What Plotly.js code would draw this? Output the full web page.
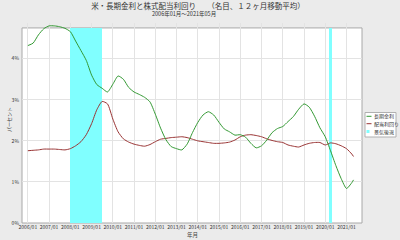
<!DOCTYPE html>
<html>
<head>
<meta charset="utf-8">
<script src="https://cdn.plot.ly/plotly-3.0.1.min.js"></script>
<style>html,body{margin:0;padding:0;background:#ebebeb;}#chart{width:400px;height:240px;}</style>
</head>
<body>
<div id="chart"></div>
<script>
// ---- data (quarterly readings, 12-month moving averages, %) ----
const months = [
 '2006-01','2006-04','2006-07','2006-10',
 '2007-01','2007-04','2007-07','2007-10',
 '2008-01','2008-04','2008-07','2008-10',
 '2009-01','2009-04','2009-07','2009-10',
 '2010-01','2010-04','2010-07','2010-10',
 '2011-01','2011-04','2011-07','2011-10',
 '2012-01','2012-04','2012-07','2012-10',
 '2013-01','2013-04','2013-07','2013-10',
 '2014-01','2014-04','2014-07','2014-10',
 '2015-01','2015-04','2015-07','2015-10',
 '2016-01','2016-04','2016-07','2016-10',
 '2017-01','2017-04','2017-07','2017-10',
 '2018-01','2018-04','2018-07','2018-10',
 '2019-01','2019-04','2019-07','2019-10',
 '2020-01','2020-04','2020-07','2020-10',
 '2021-01','2021-04','2021-05'];
const longRate = [
 4.32,4.38,4.58,4.73,
 4.80,4.80,4.78,4.74,
 4.66,4.43,4.20,3.96,
 3.60,3.37,3.28,3.19,
 3.38,3.58,3.50,3.30,
 3.19,3.13,3.06,2.95,
 2.65,2.31,2.03,1.86,
 1.81,1.78,1.92,2.20,
 2.45,2.63,2.71,2.63,
 2.45,2.29,2.22,2.14,
 2.15,2.09,1.94,1.83,
 1.88,2.02,2.20,2.30,
 2.35,2.47,2.59,2.77,
 2.90,2.82,2.60,2.32,
 2.10,1.76,1.40,1.08,
 0.84,0.98,1.05];
const divYield = [
 1.76,1.77,1.78,1.80,
 1.80,1.80,1.79,1.78,
 1.81,1.88,1.98,2.15,
 2.42,2.76,2.96,2.90,
 2.53,2.22,2.05,1.97,
 1.92,1.89,1.87,1.91,
 1.98,2.04,2.06,2.08,
 2.09,2.10,2.08,2.04,
 2.00,1.98,1.96,1.94,
 1.94,1.95,1.97,2.02,
 2.10,2.14,2.15,2.13,
 2.10,2.05,2.01,1.98,
 1.96,1.90,1.87,1.85,
 1.90,1.94,1.96,1.96,
 1.90,1.95,1.93,1.88,
 1.81,1.68,1.62];
const recessionMonths = [
 '2008-01','2008-02','2008-03','2008-04','2008-05','2008-06',
 '2008-07','2008-08','2008-09','2008-10','2008-11','2008-12',
 '2009-01','2009-02','2009-03','2009-04','2009-05','2009-06',
 '2020-03','2020-04'];
const recessionFlag = recessionMonths.map(() => 1);
const yTickVals = [0,1,2,3,4];
const yTickText = ['0%','1%','2%','3%','4%'];
const xTickYears = ['2006-01-01','2007-01-01','2008-01-01','2009-01-01','2010-01-01','2011-01-01',
 '2012-01-01','2013-01-01','2014-01-01','2015-01-01','2016-01-01','2017-01-01',
 '2018-01-01','2019-01-01','2020-01-01','2021-01-01'];
const xTickText = xTickYears.map(d => d.slice(0,4) + '/' + d.slice(5,7));
const seriesNames = ['長期金利','配当利回り','景気後退'];

// ---- styling ----
const FONT = '"Noto Sans CJK JP", "Noto Sans", sans-serif';
const GREEN = '#339933', RED = '#993333', CYAN = '#80ffff', BG = '#ebebeb';
const YMAX = 4.87, FRAME_TOP = 4.75;
const frameFrac = FRAME_TOP / YMAX;
const W = 340, H = 200, L = 22, T = 23;
const px = x => (x - L) / W;          // container x -> paper x
const py = y => (T + H - y) / H;      // container y -> paper y

const traces = [
  {type:'bar', x: recessionMonths, y: recessionFlag.map(f => f * FRAME_TOP),
   offset: 0, width: 31*86400000, marker:{color: CYAN, line:{width:0}},
   name: seriesNames[2], showlegend:false, hoverinfo:'skip'},
  {type:'scatter', mode:'lines', x: months, y: divYield,
   line:{color: RED, width:1, shape:'spline', smoothing:0.6}, name: seriesNames[1], showlegend:false},
  {type:'scatter', mode:'lines', x: months, y: longRate,
   line:{color: GREEN, width:1, shape:'spline', smoothing:0.6}, name: seriesNames[0], showlegend:false}
];

const shapes = [
  {type:'rect', xref:'paper', yref:'paper', x0:0, x1:1, y0:0, y1:frameFrac,
   fillcolor:'#ffffff', line:{color:'#a8a8a8', width:1}, layer:'below'},
  {type:'rect', xref:'paper', yref:'paper', x0:px(365), x1:px(396), y0:py(137), y1:py(112.5),
   fillcolor:'#ffffff', line:{color:'#b0b0b0', width:1}},
  {type:'line', xref:'paper', yref:'paper', x0:px(366.5), x1:px(371.5), y0:py(116.3), y1:py(116.3),
   line:{color:GREEN, width:1}},
  {type:'line', xref:'paper', yref:'paper', x0:px(366.5), x1:px(371.5), y0:py(123.7), y1:py(123.7),
   line:{color:RED, width:1}},
  {type:'rect', xref:'paper', yref:'paper', x0:px(366.5), x1:px(369.5), y0:py(133), y1:py(130),
   fillcolor:CYAN, line:{width:0}}
];

const annotations = [
  {text:'2006年01月～2021年05月', xref:'paper', yref:'paper', x:px(184), y:py(14),
   xanchor:'center', yanchor:'middle', showarrow:false, font:{family:FONT, size:5.5, color:'#333'}},
  {text:'パーセント', xref:'paper', yref:'paper', x:px(8), y:py(120), textangle:-90,
   xanchor:'center', yanchor:'middle', showarrow:false, font:{family:FONT, size:5, color:'#444'}},
  {text:'年月', xref:'paper', yref:'paper', x:px(192), y:py(235),
   xanchor:'center', yanchor:'middle', showarrow:false, font:{family:FONT, size:5.5, color:'#444'}},
  {text:seriesNames[0], xref:'paper', yref:'paper', x:px(372.5), y:py(116.3), xanchor:'left', yanchor:'middle',
   showarrow:false, font:{family:FONT, size:5, color:'#333'}},
  {text:seriesNames[1], xref:'paper', yref:'paper', x:px(372.5), y:py(123.7), xanchor:'left', yanchor:'middle',
   showarrow:false, font:{family:FONT, size:5, color:'#333'}},
  {text:seriesNames[2], xref:'paper', yref:'paper', x:px(372.5), y:py(131.5), xanchor:'left', yanchor:'middle',
   showarrow:false, font:{family:FONT, size:5, color:'#333'}}
];

const layout = {
  width:400, height:240,
  margin:{l:L, r:400-L-W, t:T, b:240-T-H, pad:0},
  paper_bgcolor: BG, plot_bgcolor: BG,
  font:{family:FONT, size:5, color:'#333'},
  title:{text:'米・長期金利と株式配当利回り　　（名目、１２ヶ月移動平均）',
    xref:'paper', yref:'container', x:px(198), y:1-6.5/240, xanchor:'center', yanchor:'middle',
    font:{family:FONT, size:7.5, color:'#333'}},
  showlegend:false,
  bargap:0,
  xaxis:{type:'date', range:['2005-09-22','2021-09-24'], tickvals:xTickYears, ticktext:xTickText,
    showgrid:true, gridcolor:'#e3e3e3', gridwidth:1, zeroline:false, showline:false, ticks:'', ticklen:0,
    tickfont:{family:FONT, size:5, color:'#333'}, fixedrange:true, automargin:false},
  yaxis:{range:[0, YMAX], tickvals:yTickVals, ticktext:yTickText, ticklabelstandoff:2,
    showgrid:true, gridcolor:'#e3e3e3', gridwidth:1, zeroline:false, showline:false, ticks:'', ticklen:0,
    tickfont:{family:FONT, size:5, color:'#333'}, fixedrange:true, automargin:false},
  shapes: shapes,
  annotations: annotations
};

Plotly.newPlot('chart', traces, layout, {displayModeBar:false, staticPlot:true});
</script>
</body>
</html>
